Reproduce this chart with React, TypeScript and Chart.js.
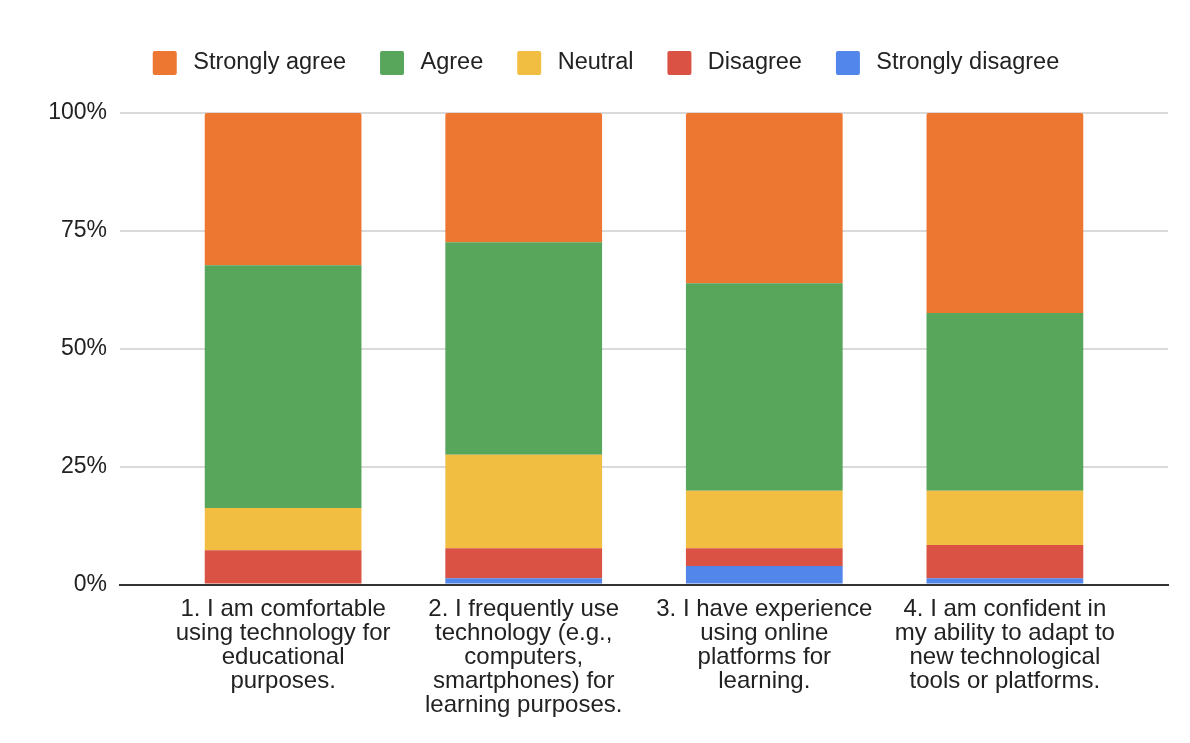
import React, { useEffect, useRef } from "react";
import { Chart, registerables } from "chart.js";

Chart.register(...registerables);

// Survey statements (x categories), one array of lines per tick label
const categories: string[][] = [
  ["1. I am comfortable", "using technology for", "educational", "purposes."],
  ["2. I frequently use", "technology (e.g.,", "computers,", "smartphones) for", "learning purposes."],
  ["3. I have experience", "using online", "platforms for", "learning."],
  ["4. I am confident in", "my ability to adapt to", "new technological", "tools or platforms."],
];

// Share of responses per statement (%)
const stronglyDisagree = [0, 1.3, 3.9, 1.3];
const disagree = [7.25, 6.4, 3.8, 7.1];
const neutral = [8.95, 19.8, 12.2, 11.5];
const agree = [51.5, 45.1, 44.0, 37.7];
const stronglyAgree = [32.3, 27.4, 36.1, 42.4];

const yTicks = [0, 25, 50, 75, 100];

const seriesNames = ["Strongly disagree", "Disagree", "Neutral", "Agree", "Strongly agree"];
const seriesColors = ["#5386EB", "#DA5243", "#F1BE42", "#58A65C", "#ED7731"];

const FONT = '"Liberation Sans", Arial, Helvetica, sans-serif';

// Extra space between the legend and the plot area
const legendGap = {
  id: "legendGap",
  beforeInit(chart: any) {
    const legend = chart.legend;
    if (!legend) return;
    const fit = legend.fit;
    legend.fit = function () {
      fit.call(this);
      this.height += 28;
    };
  },
};

export default function App() {
  const canvasRef = useRef<HTMLCanvasElement | null>(null);

  useEffect(() => {
    if (!canvasRef.current) return;
    const series = [stronglyDisagree, disagree, neutral, agree, stronglyAgree];
    const chart = new Chart(canvasRef.current, {
      type: "bar",
      data: {
        datasets: series.map((vals, si) => ({
          label: seriesNames[si],
          data: vals.map((v, i) => ({ x: i, y: v })),
          backgroundColor: seriesColors[si],
          borderWidth: 0,
          borderSkipped: false,
          borderRadius: si === series.length - 1 ? { topLeft: 2, topRight: 2, bottomLeft: 0, bottomRight: 0 } : 0,
          barPercentage: 0.6515,
          categoryPercentage: 1,
        })),
      },
      plugins: [legendGap],
      options: {
        animation: false,
        responsive: false,
        maintainAspectRatio: false,
        layout: { padding: { top: 17, right: 22, bottom: 12.5, left: 44 } },
        font: { family: FONT },
        plugins: {
          tooltip: { enabled: false },
          legend: {
            position: "top",
            reverse: true,
            labels: {
              font: { family: FONT, size: 23.5 },
              color: "#222",
              boxWidth: 24,
              boxHeight: 24,
              padding: 34,
              generateLabels: (c: any) =>
                c.data.datasets.map((ds: any, i: number) => ({
                  text: "\u2009" + ds.label,
                  fillStyle: ds.backgroundColor,
                  strokeStyle: ds.backgroundColor,
                  lineWidth: 0,
                  borderRadius: 2,
                  fontColor: "#222",
                  hidden: false,
                  datasetIndex: i,
                })),
            },
          },
        },
        scales: {
          x: {
            type: "linear",
            stacked: true,
            offset: false,
            min: -0.678,
            max: categories.length - 1 + 0.678,
            afterBuildTicks: (scale: any) => {
              scale.ticks = categories.map((_, i) => ({ value: i }));
            },
            grid: { display: false, drawTicks: false, offset: false },
            border: { display: true, color: "#333", width: 2 },
            ticks: {
              autoSkip: false,
              maxRotation: 0,
              minRotation: 0,
              padding: 13,
              color: "#222",
              font: { family: FONT, size: 24, lineHeight: 1.0 },
              callback: (v: any) => categories[Math.round(Number(v))] ?? "",
            },
          },
          y: {
            type: "linear",
            stacked: true,
            min: 0,
            max: 100,
            afterFit: (scale: any) => {
              scale.width = 76;
            },
            afterBuildTicks: (scale: any) => {
              scale.ticks = yTicks.map((v) => ({ value: v }));
            },
            grid: { color: "#dadada", lineWidth: 2, drawTicks: false },
            border: { display: false },
            ticks: {
              padding: 13,
              color: "#222",
              font: { family: FONT, size: 23 },
              callback: (v: any) => v + "%",
            },
          },
        },
      },
    });
    return () => chart.destroy();
  }, []);

  return (
    <div style={{ position: "fixed", left: 0, top: 0, width: 1190, height: 743, background: "#fff" }}>
      <canvas ref={canvasRef} width={1190} height={743} style={{ width: 1190, height: 743 }} />
    </div>
  );
}
